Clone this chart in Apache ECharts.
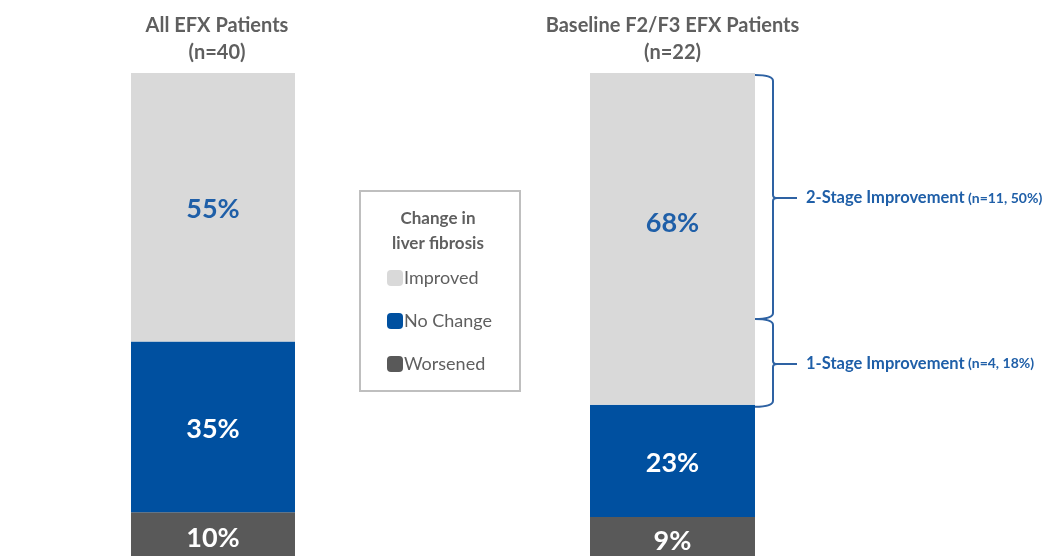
<!DOCTYPE html>
<html>
<head>
<meta charset="utf-8">
<script src="https://cdn.jsdelivr.net/npm/echarts@6/dist/echarts.min.js"></script>
<style>
  html, body { margin: 0; padding: 0; background: #ffffff; }
  #chart { width: 1054px; height: 556px; }
</style>
</head>
<body>
<div id="chart"></div>
<script>
// Patient groups (bar titles)
const groups = ['All EFX Patients\n(n=40)', 'Baseline F2/F3 EFX Patients\n(n=22)'];
// Share of patients (%) per fibrosis outcome, one value per group
const improved = [55, 68];
const noChange = [35, 23];
const worsened = [10, 9];
// Breakdown of the improved share in the baseline F2/F3 group
const stageNames = ['2-Stage Improvement', '1-Stage Improvement'];
const stageN = [11, 4];
const stagePct = [50, 18];

const FONT = 'Lato, "Open Sans", sans-serif';
const C_LIGHT = '#d9d9d9', C_BLUE = '#0050a0', C_DARK = '#595959';
const C_TEXT = '#5f5f5f', C_ACCENT = '#1f5fa8';

const chart = echarts.init(document.getElementById('chart'), null, { renderer: 'canvas' });

// Bars run past the bottom edge of the canvas
const grids = [
  { left: 131, width: 164, top: 73, height: 488, outerBoundsMode: 'none' },
  { left: 590, width: 165, top: 73, height: 488, outerBoundsMode: 'none' }
];

const xAxes = grids.map((g, i) => ({
  type: 'category', gridIndex: i, position: 'top', data: [groups[i]],
  axisLine: { show: false }, axisTick: { show: false },
  axisLabel: {
    fontFamily: FONT, fontWeight: 'bold', fontSize: 20, color: C_TEXT, lineHeight: 27, margin: 7,
    padding: i === 0 ? [0, 0, 0, 8] : 0
  }
}));
const yAxes = grids.map((g, i) => ({
  type: 'value', gridIndex: i, min: 0, max: 100, show: false, splitLine: { show: false }
}));

const segs = [
  { name: 'Worsened', values: worsened, color: C_DARK, label: '#ffffff' },
  { name: 'No Change', values: noChange, color: C_BLUE, label: '#ffffff' },
  { name: 'Improved', values: improved, color: C_LIGHT, label: C_ACCENT }
];

const series = [];
grids.forEach((g, i) => {
  segs.forEach(s => {
    series.push({
      type: 'bar', name: s.name, xAxisIndex: i, yAxisIndex: i, stack: 'g' + i,
      barWidth: '100%', itemStyle: { color: s.color },
      data: [{
        value: s.values[i],
        label: (i === 1 && s.name === 'Improved') ? { offset: [0, -16] } : undefined
      }],
      label: {
        show: true, position: 'inside', formatter: '{c}%', offset: [0, 2],
        fontFamily: FONT, fontWeight: 'bold', fontSize: 27, color: s.label
      }
    });
  });
});

// Braces splitting the improved share of the second bar by stage
let cum = 100;
const stageData = stagePct.map((p, k) => {
  const top = cum; cum -= p;
  return [0, top, cum, k];
});
series.push({
  type: 'custom', xAxisIndex: 1, yAxisIndex: 1, clip: false, silent: true,
  data: stageData,
  renderItem: function (params, api) {
    const top = api.coord([api.value(0), api.value(1)]);
    const bot = api.coord([api.value(0), api.value(2)]);
    const k = api.value(3);
    const band = api.size([1, 0])[0];
    const x0 = top[0] + band / 2;
    const x1 = x0 + 18;
    const xt = x1 + 24;
    const y0 = top[1] + 2, y1 = bot[1] + 2;
    const ym = (y0 + y1) / 2 + 1;
    const r = 6;
    const stroke = { stroke: '#2e62a3', lineWidth: 2, fill: null };
    const path = 'M' + x0 + ',' + y0 + ' Q' + x1 + ',' + y0 + ' ' + x1 + ',' + (y0 + r) +
      ' L' + x1 + ',' + (ym - 3) + ' Q' + x1 + ',' + ym + ' ' + (x1 + 4) + ',' + ym +
      ' L' + xt + ',' + ym +
      ' M' + (x1 + 4) + ',' + ym + ' Q' + x1 + ',' + ym + ' ' + x1 + ',' + (ym + 3) +
      ' L' + x1 + ',' + (y1 - r) + ' Q' + x1 + ',' + y1 + ' ' + x0 + ',' + y1;
    return {
      type: 'group',
      children: [
        { type: 'path', shape: { pathData: path }, style: stroke },
        {
          type: 'text', x: xt + 9, y: ym,
          style: {
            text: '{a|' + stageNames[k] + '} {b|(n=' + stageN[k] + ', ' + stagePct[k] + '%)}',
            verticalAlign: 'middle', align: 'left',
            rich: {
              a: { fontFamily: FONT, fontWeight: 'bold', fontSize: 16.5, fill: C_ACCENT },
              b: { fontFamily: FONT, fontWeight: 'bold', fontSize: 14, fill: C_ACCENT }
            }
          }
        }
      ]
    };
  }
});

chart.setOption({
  backgroundColor: '#ffffff',
  animation: false,
  grid: grids,
  xAxis: xAxes,
  yAxis: yAxes,
  legend: {
    data: ['Improved', 'No Change', 'Worsened'],
    orient: 'vertical', left: 382, top: 264,
    itemWidth: 16, itemHeight: 16, itemGap: 25,
    icon: 'roundRect',
    textStyle: { fontFamily: FONT, fontSize: 18, color: C_TEXT, lineHeight: 16, padding: [0, 0, 0, -4] },
    selectedMode: false
  },
  graphic: [
    {
      type: 'rect', x: 360, y: 191, z: 0,
      shape: { width: 160, height: 200 },
      style: { fill: '#ffffff', stroke: '#bfbfbf', lineWidth: 2 }
    },
    {
      type: 'text', x: 438, y: 206, z: 10,
      style: {
        text: 'Change in\nliver fibrosis', fontFamily: FONT, fontWeight: 'bold',
        fontSize: 17, lineHeight: 25, fill: C_TEXT, align: 'center'
      }
    }
  ],
  series: series
});
</script>
</body>
</html>
